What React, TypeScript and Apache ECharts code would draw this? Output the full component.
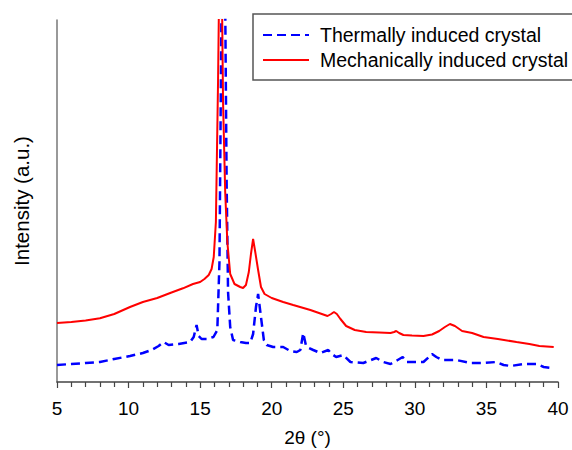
import React, { useEffect, useRef } from "react";
import * as echarts from "echarts";

const mechX = [5, 6, 7, 8, 9, 10.1, 11, 12, 13, 13.8, 14.5, 15, 15.3, 15.6, 15.8, 15.95, 16.1, 16.25, 16.4, 16.5, 16.6, 16.75, 16.9, 17.1, 17.4, 17.8, 18.0, 18.2, 18.4, 18.55, 18.7, 18.85, 19.05, 19.25, 19.5, 20, 20.8, 21.5, 22.7, 23.5, 23.9, 24.15, 24.35, 24.55, 24.8, 25.2, 25.8, 26.6, 27.5, 28.3, 28.55, 28.7, 28.9, 29.2, 29.8, 30.6, 31.2, 31.7, 32.1, 32.45, 32.8, 33.3, 34, 34.8, 35.8, 37.1, 38, 38.7, 39.7];
const mechY = [59, 60, 61.5, 63.7, 68, 75, 80, 84, 89.5, 93.7, 98, 100, 103, 107, 113, 125, 160, 300, 480, 420, 280, 190, 140, 108, 98, 95, 94, 97, 110, 128, 143, 130, 112, 95, 88, 84, 80, 77, 72, 68, 66, 68, 70, 68, 63, 56, 52, 50, 49.5, 49, 50, 51, 49, 47, 46.5, 46, 47.5, 51, 55, 58, 56, 51, 49, 45, 43, 40, 38, 36, 35];

const thermX = [5, 6, 7, 8, 9, 10.1, 11, 11.6, 12.1, 12.45, 12.8, 13.5, 14.3, 14.55, 14.75, 14.9, 15.1, 15.5, 15.93, 16.2, 16.35, 16.45, 16.55, 16.65, 16.75, 16.85, 16.95, 17.1, 17.3, 17.8, 18.2, 18.5, 18.7, 18.9, 19.05, 19.25, 19.45, 19.65, 20.1, 20.8, 21.3, 21.75, 22.0, 22.2, 22.4, 22.6, 22.9, 23.4, 23.95, 24.2, 24.5, 25.0, 25.5, 26.4, 27.3, 27.8, 28.3, 28.8, 29.15, 29.4, 30.0, 30.6, 31.2, 31.5, 31.9, 32.9, 33.9, 34.8, 35.7, 36.2, 36.7, 37.6, 38.5, 39.0, 39.6];
const thermY = [17, 18, 19, 20, 23, 26, 29, 32, 36, 40, 37, 38, 40, 45, 57, 46, 43, 43, 45, 52, 120, 300, 480, 500, 380, 200, 90, 55, 42, 40, 39, 39, 48, 75, 88, 65, 42, 37, 35, 35, 31, 30, 32, 49, 36, 34, 32, 29, 32, 28, 25, 27, 20, 19, 24, 20, 18, 22, 25, 20, 20, 20, 28, 25, 22, 22, 19, 19, 20, 17, 16, 18, 18, 15, 14];

const seriesNames = ["Thermally induced crystal", "Mechanically induced crystal"];
const FONT = "Arial, 'Liberation Sans', sans-serif";

export default function App() {
  const ref = useRef<HTMLDivElement>(null);
  useEffect(() => {
    if (!ref.current) return;
    const chart = echarts.init(ref.current, undefined, { renderer: "svg" });
    chart.setOption({
      animation: false,
      backgroundColor: "#fff",
      textStyle: { fontFamily: FONT },
      grid: { left: 57, top: 20, right: 14, bottom: 68, containLabel: false, outerBoundsMode: "none" },
      legend: {
        orient: "vertical",
        left: 253,
        top: 14,
        padding: [11, 60, 10, 9],
        itemWidth: 46,
        itemHeight: 18,
        itemGap: 5,
        borderColor: "#555",
        borderWidth: 1.5,
        backgroundColor: "#fff",
        itemStyle: { opacity: 0 },
        textStyle: { fontSize: 19.5, lineHeight: 20, color: "#000", fontFamily: FONT, padding: [0, 0, 0, 6] },
        data: seriesNames,
      },
      xAxis: {
        type: "value",
        min: 5,
        max: 40,
        interval: 5,
        splitLine: { show: false },
        axisLine: { lineStyle: { color: "#444", width: 1.5 } },
        axisTick: { length: 6, lineStyle: { color: "#444", width: 1.2 } },
        minorTick: { show: true, splitNumber: 5, length: 5, lineStyle: { color: "#444", width: 1.2 } },
        axisLabel: { fontSize: 19, color: "#000", margin: 17, fontFamily: FONT },
        name: "2θ (°)",
        nameLocation: "middle",
        nameGap: 46,
        nameTextStyle: { fontSize: 19, color: "#000", fontFamily: FONT },
      },
      yAxis: {
        type: "value",
        min: 0,
        max: 362,
        splitLine: { show: false },
        axisLine: { show: true, lineStyle: { color: "#777", width: 1.5 } },
        axisTick: { show: false },
        axisLabel: { show: false },
        name: "Intensity (a.u.)",
        nameLocation: "middle",
        nameGap: 25,
        nameTextStyle: { fontSize: 20.5, color: "#000", fontFamily: FONT },
      },
      series: [
        {
          name: seriesNames[0],
          type: "line",
          showSymbol: false,
          symbol: "none",
          clip: true,
          data: thermX.map((x, i) => [x, thermY[i]]),
          lineStyle: { color: "#0000ff", width: 2.5, type: [9, 5] },
          itemStyle: { color: "#0000ff" },
        },
        {
          name: seriesNames[1],
          type: "line",
          showSymbol: false,
          symbol: "none",
          clip: true,
          data: mechX.map((x, i) => [x, mechY[i]]),
          lineStyle: { color: "#ff0000", width: 2 },
          itemStyle: { color: "#ff0000" },
        },
      ],
    });
    return () => chart.dispose();
  }, []);
  return <div ref={ref} style={{ width: 572, height: 450, position: "absolute", left: 0, top: 0 }} />;
}
